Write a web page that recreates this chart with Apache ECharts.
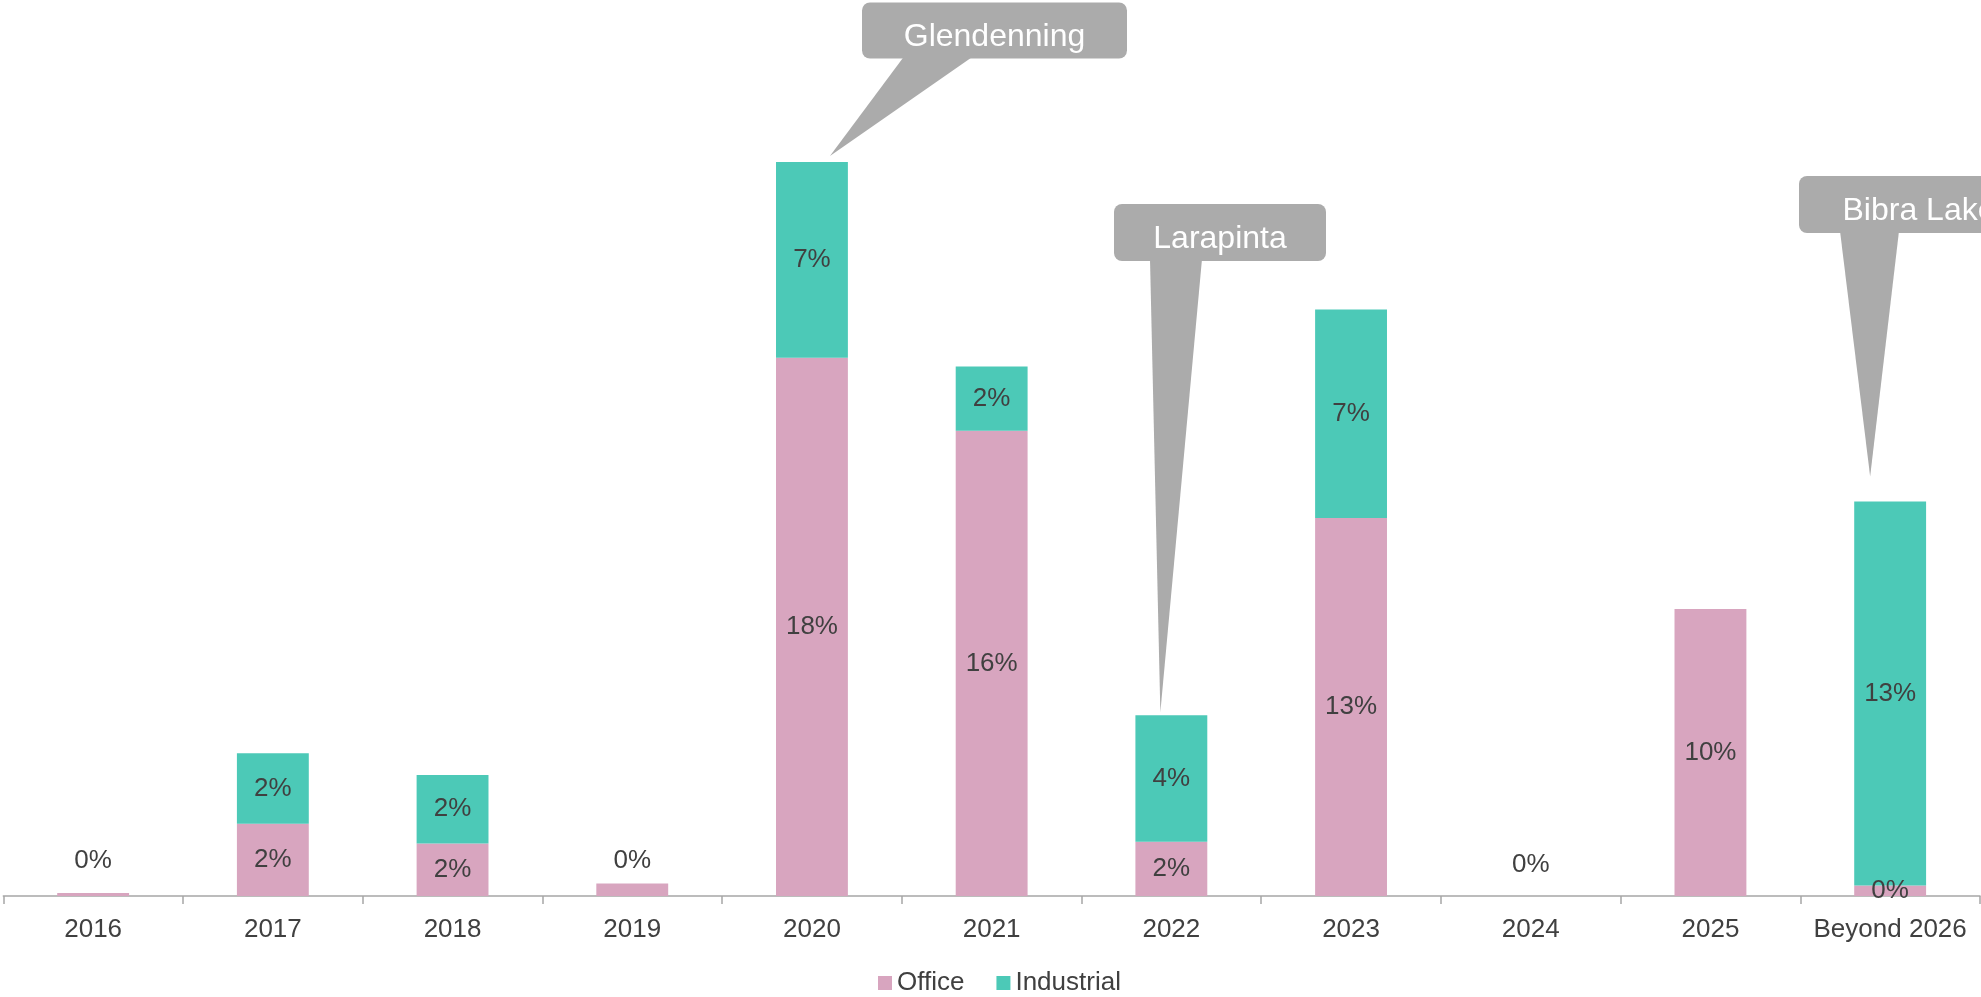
<!DOCTYPE html>
<html>
<head>
<meta charset="utf-8">
<title>Lease expiry profile</title>
<script src="https://cdn.jsdelivr.net/npm/echarts@6/dist/echarts.min.js"></script>
<style>
  html, body { margin: 0; padding: 0; background: #ffffff; }
  #chart { width: 1981px; height: 997px; }
</style>
</head>
<body>
<div id="chart"></div>
<script>
// Expiry years along the x axis
const categories = ['2016', '2017', '2018', '2019', '2020', '2021', '2022', '2023', '2024', '2025', 'Beyond 2026'];
// Share of income expiring, in percent
const officeShare     = [0.10, 2.45, 1.78, 0.42, 18.25, 15.77, 1.84, 12.81, 0, 9.73, 0.36];
const industrialShare = [0,    2.39, 2.32, 0,    6.63,  2.18,  4.29, 7.07,  0, 0,    13.01];
// Years whose office label is lifted above the (tiny) bar
const liftedOfficeLabels = ['2016', '2019', '2024'];
// Property call-outs and the year each one points at
const calloutNames = ['Glendenning', 'Larapinta', 'Bibra Lake'];
const calloutYears = ['2020', '2022', 'Beyond 2026'];

const FONT = '"Liberation Sans", Arial, Helvetica, sans-serif';
const TEXT = '#404040';
const OFFICE = '#D8A5BF';
const INDUSTRIAL = '#4CC9B7';
const CALLOUT = '#ABABAB';

const pct = p => Math.round(p.value) + '%';

const officeData = officeShare.map((v, i) => {
  if (liftedOfficeLabels.includes(categories[i])) {
    return { value: v, label: { position: 'insideBottom', distance: categories[i] === '2024' ? 18 : 22 } };
  }
  return v;
});
const industrialData = industrialShare.map(v => (v === 0 ? { value: v, label: { show: false } } : v));

const chart = echarts.init(document.getElementById('chart'), null, { renderer: 'canvas' });

const labelStyle = { show: true, position: 'inside', formatter: pct, color: TEXT, fontSize: 26, fontFamily: FONT };

chart.setOption({
  animation: false,
  textStyle: { fontFamily: FONT },
  grid: { left: 3.3, right: 1, top: 158.5, bottom: 101 },
  legend: {
    data: ['Office', 'Industrial'],
    left: 873,
    top: 965,
    itemWidth: 14,
    itemHeight: 14,
    itemGap: 32,
    icon: 'rect',
    textStyle: { color: TEXT, fontSize: 26, fontFamily: FONT }
  },
  xAxis: {
    type: 'category',
    data: categories,
    boundaryGap: true,
    axisLine: { lineStyle: { color: '#A6A6A6', width: 1.5 } },
    axisTick: { show: true, length: 8, lineStyle: { color: '#A6A6A6', width: 1.5 } },
    axisLabel: { interval: 0, margin: 21, color: TEXT, fontSize: 26, fontFamily: FONT }
  },
  yAxis: { type: 'value', min: 0, max: 25, show: false, splitLine: { show: false } },
  series: [
    {
      name: 'Office', type: 'bar', stack: 'total', barWidth: '40%',
      itemStyle: { color: OFFICE },
      label: labelStyle,
      data: officeData
    },
    {
      name: 'Industrial', type: 'bar', stack: 'total', barWidth: '40%',
      itemStyle: { color: INDUSTRIAL },
      label: labelStyle,
      data: industrialData
    }
  ]
});

// Call-out boxes: box rectangle, pointer base on its lower edge, and tip offset from the bar top
const calloutLayout = [
  { box: [862, 2.5, 265, 56],  base: [904, 973],   tip: [18, -6] },
  { box: [1114, 204, 212, 57], base: [1150, 1202], tip: [-11, -3] },
  { box: [1799, 176, 240, 57], base: [1840, 1899], tip: [-20, -25] }
];

const graphics = [];
calloutNames.forEach((name, k) => {
  const i = categories.indexOf(calloutYears[k]);
  const top = officeShare[i] + industrialShare[i];
  const [cx, cy] = chart.convertToPixel({ gridIndex: 0 }, [i, top]);
  const L = calloutLayout[k];
  const [bx, by, bw, bh] = L.box;
  const bottom = by + bh;
  graphics.push({
    type: 'polygon', silent: true, z: 10,
    shape: { points: [[L.base[0], bottom - 2], [L.base[1], bottom - 2], [cx + L.tip[0], cy + L.tip[1]]] },
    style: { fill: CALLOUT }
  });
  graphics.push({
    type: 'rect', silent: true, z: 10,
    shape: { x: bx, y: by, width: bw, height: bh, r: 8 },
    style: { fill: CALLOUT }
  });
  graphics.push({
    type: 'text', silent: true, z: 11,
    x: bx + bw / 2, y: by + bh / 2 + 7,
    style: { text: name, fill: '#ffffff', fontSize: 32, fontFamily: FONT, align: 'center', verticalAlign: 'middle' }
  });
});

chart.setOption({ graphic: graphics });
</script>
</body>
</html>
